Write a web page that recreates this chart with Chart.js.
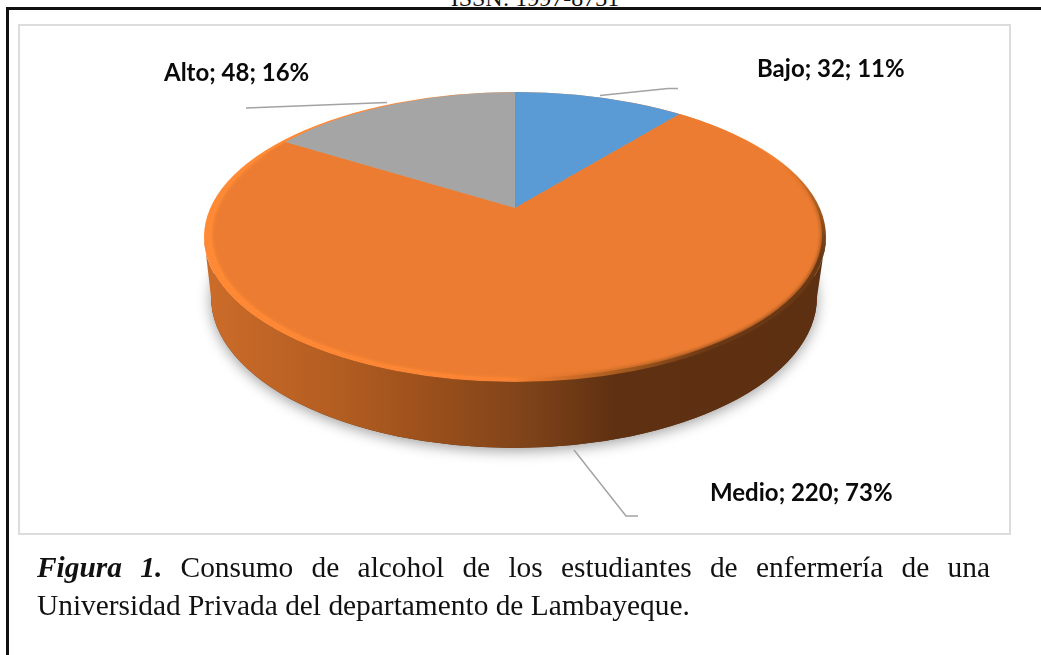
<!DOCTYPE html>
<html lang="es">
<head>
<meta charset="utf-8">
<title>Figura 1</title>
<script src="https://cdn.jsdelivr.net/npm/chart.js@4"></script>
<style>
html, body { margin: 0; background: #fff; overflow: hidden; }
#page { position: relative; width: 1041px; height: 655px; overflow: hidden; }
#issn { position: absolute; left: 0; width: 1070px; top: -14px; text-align: center;
  font: 24px/24px "Liberation Serif", serif; color: #111; }
#frame { position: absolute; left: 6px; top: 7px; width: 1100px; height: 700px;
  border-left: 3px solid #111; border-top: 3px solid #111; }
#box { position: absolute; left: 18px; top: 24px; width: 989px; height: 507px;
  border: 2px solid #dcdcdc; }
canvas { position: absolute; left: 0; top: 0; }
#caption { position: absolute; left: 37px; top: 548px; width: 953px; margin: 0;
  font: 29.4px/38px "Liberation Serif", serif; color: #111; text-align: justify; }
</style>
</head>
<body>
<div id="page">
  <div id="issn">ISSN: 1997-8731</div>
  <div id="frame"></div>
  <div id="box"></div>
  <canvas id="pieChart" width="1041" height="655"></canvas>
  <p id="caption"><b><i>Figura 1.</i></b> Consumo de alcohol de los estudiantes de enfermería de una Universidad Privada del departamento de Lambayeque.</p>
</div>
<script>
// gegevens
const categories = ['Bajo', 'Medio', 'Alto'];
const students = [32, 220, 48];
const colors = ['#5b9bd5', '#eb7c31', '#a5a5a5'];

// label position per category: x, baseline y
const labelPlaces = [[757, 77], [710, 501], [164, 81]];
const leaderLines = [
    [[600, 95.5], [668, 88.5], [678, 88.5]],
    [[574, 450], [626, 516], [638, 516]],
    [[246, 108], [387, 102.5]]
];

// the tilted disc: apex of the slices, squash factor and the visible ellipses
const apex = { x: 515, y: 208, squash: 0.452 };
const topFace = { x: 515, y: 237, rx: 311, ry: 145 };
const innerFace = { x: 517, y: 235, rx: 305, ry: 143 };
const bottomFace = { x: 514, y: 297, rx: 303, ry: 151 };

function ellipsePath(ctx, e) {
    ctx.beginPath();
    ctx.ellipse(e.x, e.y, e.rx, e.ry, 0, 0, Math.PI * 2);
}

function stops(grad, list) {
    list.forEach(s => grad.addColorStop(s[0], s[1]));
    return grad;
}

// rim colour runs from light at the left to dark at the lower right
function rimGradient(ctx) {
    const grad = ctx.createLinearGradient(0, 0, 500, 600);
    return stops(grad, [[0.41, '#ff8a36'], [0.787, '#fb8534'], [0.828, '#d9722b'], [0.877, '#a35a1e'], [0.926, '#6a3814']]);
}

const discPlugin = {
    id: 'disc',
    beforeDatasetsDraw(chart) {
        const ctx = chart.ctx;
        ctx.save();

        // shadow under the disc
        ctx.shadowColor = 'rgba(0,0,0,0.38)';
        ctx.shadowBlur = 14;
        ctx.shadowOffsetY = 3;
        ctx.fillStyle = '#5e3012';
        ellipsePath(ctx, bottomFace);
        ctx.fill();
        ctx.shadowColor = 'transparent';

        // side wall
        const wall = ctx.createLinearGradient(204, 0, 825, 0);
        stops(wall, [[0, '#cc6c2a'], [0.22, '#b25d21'], [0.37, '#9a4f1b'], [0.52, '#7f4319'], [0.66, '#5f3112'], [1, '#5e3012']]);
        ctx.fillStyle = wall;
        ctx.beginPath();
        ctx.ellipse(topFace.x, topFace.y, topFace.rx, topFace.ry, 0, Math.PI, 0, true);
        ctx.lineTo(bottomFace.x + bottomFace.rx, bottomFace.y);
        ctx.ellipse(bottomFace.x, bottomFace.y, bottomFace.rx, bottomFace.ry, 0, 0, Math.PI);
        ctx.closePath();
        ctx.fill();

        // bevel rim
        ctx.fillStyle = rimGradient(ctx);
        ellipsePath(ctx, topFace);
        ctx.fill();
        ctx.restore();
    },
    beforeDatasetDraw(chart) {
        const ctx = chart.ctx;
        const arc = chart.getDatasetMeta(0).data[0];
        ctx.save();
        ellipsePath(ctx, innerFace);
        ctx.clip();
        ctx.translate(apex.x, apex.y);
        ctx.scale(1, apex.squash);
        ctx.translate(-arc.x, -arc.y);
    },
    afterDatasetDraw(chart) {
        chart.ctx.restore();
    },
    afterDatasetsDraw(chart) {
        const ctx = chart.ctx;
        ctx.save();

        // soften the edge between the top face and the rim
        ctx.save();
        ellipsePath(ctx, topFace);
        ctx.clip();
        ctx.filter = 'blur(1.5px)';
        ctx.strokeStyle = rimGradient(ctx);
        ctx.globalAlpha = 0.6;
        ctx.lineWidth = 3;
        ctx.beginPath();
        ctx.ellipse(innerFace.x, innerFace.y, innerFace.rx, innerFace.ry, 0, -0.6, Math.PI + 0.6);
        ctx.stroke();
        ctx.restore();

        // leader lines
        ctx.strokeStyle = '#a3a3a3';
        ctx.lineWidth = 1.5;
        leaderLines.forEach(line => {
            ctx.beginPath();
            line.forEach((p, i) => i ? ctx.lineTo(p[0], p[1]) : ctx.moveTo(p[0], p[1]));
            ctx.stroke();
        });

        // labels: categorie; aantal; procent
        const total = students.reduce((a, b) => a + b, 0);
        ctx.fillStyle = '#0a0a0a';
        ctx.font = 'bold 24px Lato';
        ctx.textBaseline = 'alphabetic';
        categories.forEach((c, i) => {
            const pct = Math.round(students[i] / total * 100);
            ctx.fillText(c + '; ' + students[i] + '; ' + pct + '%', labelPlaces[i][0], labelPlaces[i][1]);
        });
        ctx.restore();
    }
};

new Chart(document.getElementById('pieChart'), {
    type: 'pie',
    data: {
        labels: categories,
        datasets: [{
            data: students,
            backgroundColor: colors,
            borderWidth: 0,
            clip: false,
            radius: 800
        }]
    },
    options: {
        responsive: false,
        animation: false,
        radius: 800,
        layout: { padding: 0 },
        plugins: {
            legend: { display: false },
            tooltip: { enabled: false }
        }
    },
    plugins: [discPlugin]
});
</script>
</body>
</html>
